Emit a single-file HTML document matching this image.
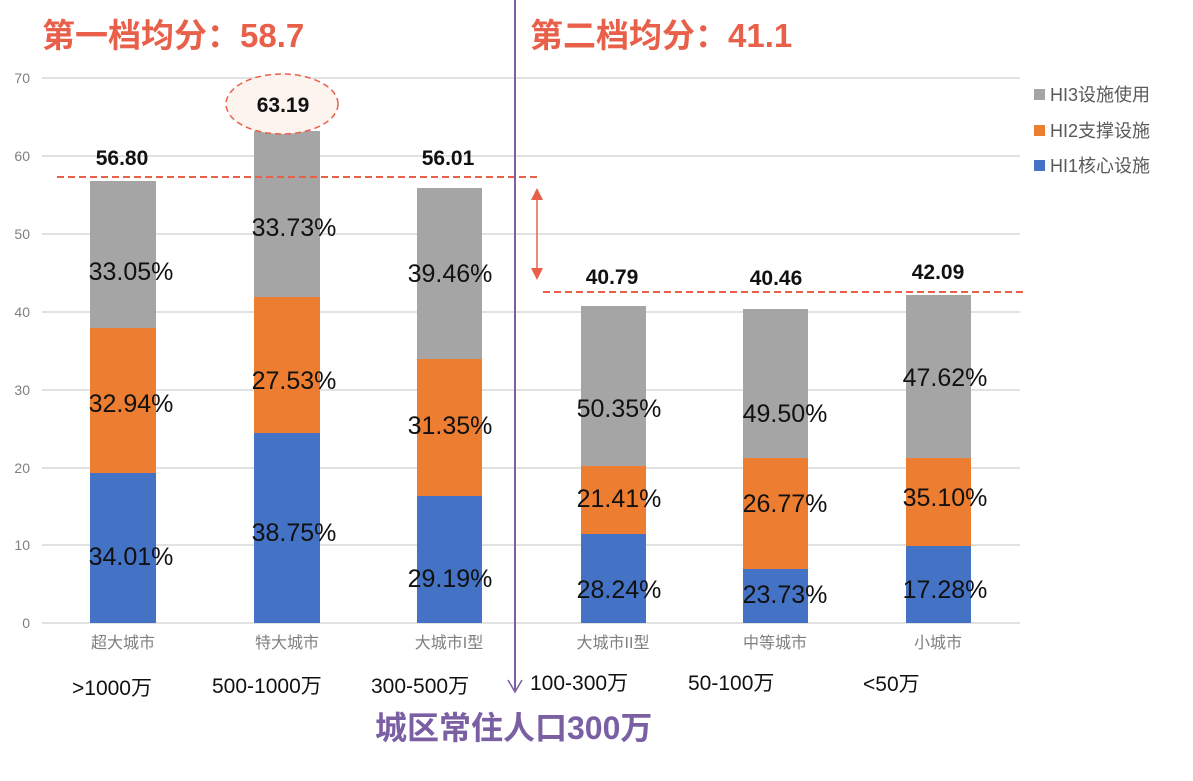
<!DOCTYPE html><html><head><meta charset="utf-8"><style>
body{margin:0;background:#fff;width:1193px;height:776px;overflow:hidden}
text{font-family:"Liberation Sans","Noto Sans CJK SC",sans-serif}
</style></head><body>
<svg width="1193" height="776" viewBox="0 0 1193 776">
<defs><marker id="ah" markerWidth="8" markerHeight="8" refX="4" refY="4" orient="auto-start-reverse"><path d="M0,0 L8,4 L0,8 z" fill="#e8604a"/></marker></defs>
<g stroke="#d9d9d9" stroke-width="1.5">
<line x1="42" x2="1020" y1="78" y2="78"/><line x1="42" x2="1020" y1="156" y2="156"/><line x1="42" x2="1020" y1="234" y2="234"/><line x1="42" x2="1020" y1="312" y2="312"/><line x1="42" x2="1020" y1="390" y2="390"/><line x1="42" x2="1020" y1="468" y2="468"/><line x1="42" x2="1020" y1="545" y2="545"/><line x1="42" x2="1020" y1="623" y2="623"/></g>
<g fill="#7f7f7f" font-size="14" text-anchor="end"><text x="30" y="83">70</text><text x="30" y="161">60</text><text x="30" y="239">50</text><text x="30" y="317">40</text><text x="30" y="395">30</text><text x="30" y="473">20</text><text x="30" y="550">10</text><text x="30" y="628">0</text></g>
<g>
<rect x="90" y="181" width="66" height="147" fill="#a5a5a5"/><rect x="90" y="328" width="66" height="145" fill="#ed7d31"/><rect x="90" y="473" width="66" height="150" fill="#4472c4"/>
<rect x="254" y="131" width="66" height="166" fill="#a5a5a5"/><rect x="254" y="297" width="66" height="136" fill="#ed7d31"/><rect x="254" y="433" width="66" height="190" fill="#4472c4"/>
<rect x="417" y="188" width="65" height="171" fill="#a5a5a5"/><rect x="417" y="359" width="65" height="137" fill="#ed7d31"/><rect x="417" y="496" width="65" height="127" fill="#4472c4"/>
<rect x="581" y="306" width="65" height="160" fill="#a5a5a5"/><rect x="581" y="466" width="65" height="68" fill="#ed7d31"/><rect x="581" y="534" width="65" height="89" fill="#4472c4"/>
<rect x="743" y="309" width="65" height="149" fill="#a5a5a5"/><rect x="743" y="458" width="65" height="111" fill="#ed7d31"/><rect x="743" y="569" width="65" height="54" fill="#4472c4"/>
<rect x="906" y="295" width="65" height="163" fill="#a5a5a5"/><rect x="906" y="458" width="65" height="88" fill="#ed7d31"/><rect x="906" y="546" width="65" height="77" fill="#4472c4"/>
</g>
<g font-size="25" fill="#111" text-anchor="middle">
<text x="131" y="280">33.05%</text><text x="131" y="412">32.94%</text><text x="131" y="565">34.01%</text>
<text x="294" y="236">33.73%</text><text x="294" y="389">27.53%</text><text x="294" y="541">38.75%</text>
<text x="450" y="282">39.46%</text><text x="450" y="434">31.35%</text><text x="450" y="587">29.19%</text>
<text x="619" y="417">50.35%</text><text x="619" y="507">21.41%</text><text x="619" y="598">28.24%</text>
<text x="785" y="422">49.50%</text><text x="785" y="512">26.77%</text><text x="785" y="603">23.73%</text>
<text x="945" y="386">47.62%</text><text x="945" y="506">35.10%</text><text x="945" y="598">17.28%</text>
</g>
<g font-size="21" font-weight="bold" fill="#111" text-anchor="middle">
<text x="122" y="165">56.80</text>
<text x="448" y="165">56.01</text>
<text x="612" y="284">40.79</text><text x="776" y="285">40.46</text><text x="938" y="279">42.09</text></g>
<ellipse cx="282" cy="104" rx="56" ry="30" fill="#fdf3ef" stroke="#e8604a" stroke-width="1.5" stroke-dasharray="6,4"/>
<text x="283" y="112" font-size="21" font-weight="bold" fill="#111" text-anchor="middle">63.19</text>
<line x1="57" x2="538" y1="177" y2="177" stroke="#e8604a" stroke-width="2" stroke-dasharray="7,4"/>
<line x1="543" x2="1025" y1="292" y2="292" stroke="#e8604a" stroke-width="2" stroke-dasharray="7,4"/>
<line x1="537" y1="194" x2="537" y2="274" stroke="#e8604a" stroke-width="1.5" marker-start="url(#ah)" marker-end="url(#ah)"/>
<line x1="515" y1="0" x2="515" y2="690" stroke="#7b5fa3" stroke-width="2"/>
<path d="M508,680 L515,692 L522,680" fill="none" stroke="#7b5fa3" stroke-width="1.5"/>
<g font-size="16" fill="#7f7f7f" text-anchor="middle">
<text x="123" y="648">超大城市</text><text x="287" y="648">特大城市</text><text x="449" y="648">大城市I型</text>
<text x="613" y="648">大城市II型</text><text x="775" y="648">中等城市</text><text x="938" y="648">小城市</text></g>
<g font-size="21" fill="#111">
<text x="72" y="695">&gt;1000万</text><text x="212" y="693">500-1000万</text><text x="371" y="693">300-500万</text>
<text x="530" y="690">100-300万</text><text x="688" y="690">50-100万</text><text x="863" y="691">&lt;50万</text></g>
<text x="375" y="739" font-size="32" font-weight="bold" fill="#7b5fa3">城区常住人口300万</text>
<text x="42" y="47" font-size="33" font-weight="bold" fill="#e8604a">第一档均分：58.7</text>
<text x="530" y="47" font-size="33" font-weight="bold" fill="#e8604a">第二档均分：41.1</text>
<rect x="1034" y="89" width="11" height="11" fill="#a5a5a5"/><text x="1050" y="101" font-size="18" fill="#595959">HI3设施使用</text>
<rect x="1034" y="125" width="11" height="11" fill="#ed7d31"/><text x="1050" y="137" font-size="18" fill="#595959">HI2支撑设施</text>
<rect x="1034" y="160" width="11" height="11" fill="#4472c4"/><text x="1050" y="172" font-size="18" fill="#595959">HI1核心设施</text>
</svg></body></html>
